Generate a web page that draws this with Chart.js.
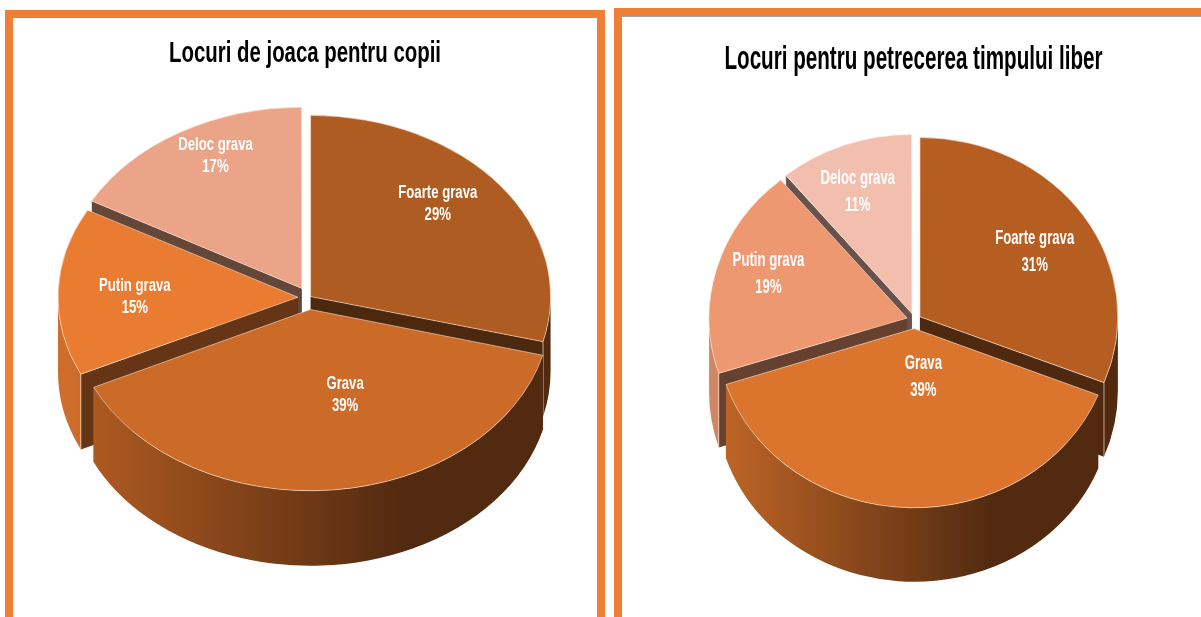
<!DOCTYPE html>
<html><head><meta charset="utf-8">
<style>
html,body{margin:0;padding:0;background:#fff;width:1201px;height:617px;overflow:hidden}
.frame{position:absolute;box-sizing:border-box;background:#fff}
#f1{left:5px;top:10px;width:600px;height:620px;border:8px solid #EE7F35}
#f2{left:614px;top:8px;width:600px;height:620px;border-left:8px solid #EE7F35;border-top:8px solid #EE7F35}
#f2:after{content:"";position:absolute;left:0;top:0;width:100%;height:1px;background:#9aa5b1}
canvas{position:absolute;top:0;display:block}
#c1{left:5px}
#c2{left:626px}
</style></head><body>
<div class="frame" id="f1"></div><div class="frame" id="f2"></div>
<canvas id="c1" width="600" height="617"></canvas>
<canvas id="c2" width="575" height="617"></canvas>
<script src="https://cdn.jsdelivr.net/npm/chart.js@4/dist/chart.umd.js"></script>
<script>
const categories = ['Foarte grava','Grava','Putin grava','Deloc grava'];
const titleCopii = 'Locuri de joaca pentru copii';
const titleTimp = 'Locuri pentru petrecerea timpului liber';
const valuesCopii = [29,39,15,17];
const valuesTimp = [31,39,19,11];
const coloursCopii = ['#AE5C21','#CC6A27','#EA7C32','#EBA487'];
const coloursTimp = ['#B65E22','#DB742C','#ED9870','#F2BEAE'];
const offsetsCopii = [8,64,44,56];
const offsetsTimp = [26,38,31,30];
const labelSpotCopii = [[.53,-.51],[.144,.47],[-.68,0],[-.36,-.73]];
const labelSpotTimp = [[.58,-.36],[.046,.27],[-.70,-.244],[-.274,-.68]];

const FONT = '"Liberation Sans Narrow","Liberation Sans",Arial,sans-serif';
const EDGE = 'rgba(255,232,215,.65)';

function rgb(h){return [1,3,5].map(i=>parseInt(h.substr(i,2),16));}
function shade(h,k){return 'rgb('+rgb(h).map(v=>Math.round(v*k)).join(',')+')';}

function radiusGrowth(arc){
  const o=(arc.options.offset||0)/4;
  return o*(1-Math.sin(Math.min(Math.PI,arc.endAngle-arc.startAngle)));
}
function geom(arc,view){
  const o=(arc.options.offset||0)/4;
  const mid=(arc.startAngle+arc.endAngle)/2;
  return {
    x:view.cx+Math.cos(mid)*o,
    y:view.cy+Math.sin(mid)*o*view.ratio,
    r:arc.outerRadius+radiusGrowth(arc),
    a:arc.startAngle,b:arc.endAngle
  };
}

const pie3d={
  id:'pie3d',
  beforeDraw(chart,args,view){
    const tb=chart.titleBlock;
    if(tb&&!tb._narrowed){
      tb._narrowed=true;
      const orig=tb.draw.bind(tb);
      tb.draw=function(){
        const ctx=chart.ctx,mid=chart.width/2;
        ctx.save();
        ctx.font='bold '+view.titleSize+'px '+FONT;
        const k=view.titleWidth/ctx.measureText(chart.options.plugins.title.text).width;
        ctx.translate(mid,0);ctx.scale(k,1);ctx.translate(-mid,0);
        orig();
        ctx.restore();
      };
    }
    // the arc element widens an exploded slice; keep all four slices the same radius
    chart.getDatasetMeta(0).data.forEach(arc=>{
      if(!arc._evened){arc._evened=true;arc.outerRadius-=radiusGrowth(arc);}
    });
  },
  beforeDatasetsDraw(chart,args,view){
    const ctx=chart.ctx,meta=chart.getDatasetMeta(0),arcs=meta.data;
    const cols=chart.data.datasets[0].backgroundColor;
    const R=geom(arcs[0],view).r;
    [3,0,2,1].forEach(i=>{
      const g=geom(arcs[i],view),ry=g.r*view.ratio,d=view.depth;
      const dark=shade(cols[i],.43);
      [[g.a,Math.cos(g.a)<-1e-6],[g.b,Math.cos(g.b)>1e-6]].forEach(([th,vis])=>{
        if(!vis)return;
        const px=g.x+Math.cos(th)*g.r,py=g.y+Math.sin(th)*ry;
        ctx.beginPath();ctx.moveTo(g.x,g.y);ctx.lineTo(px,py);ctx.lineTo(px,py+d);ctx.lineTo(g.x,g.y+d);ctx.closePath();
        ctx.fillStyle=dark;ctx.fill();
      });
      const a1=Math.max(g.a,0),a2=Math.min(g.b,Math.PI);
      if(a2>a1){
        const gr=ctx.createLinearGradient(view.cx-R,0,view.cx+R,0);
        gr.addColorStop(0,shade(cols[i],.88));
        gr.addColorStop(.7,view.wallDark);
        gr.addColorStop(1,view.wallDark);
        ctx.beginPath();
        ctx.ellipse(g.x,g.y,g.r,ry,0,a1,a2);
        ctx.ellipse(g.x,g.y+d,g.r,ry,0,a2,a1,true);
        ctx.closePath();
        ctx.fillStyle=gr;ctx.fill();
      }
      [[g.a,Math.cos(g.a)<-1e-6],[g.b,Math.cos(g.b)>1e-6]].forEach(([th,vis])=>{
        if(!vis)return;
        const px=g.x+Math.cos(th)*g.r,py=g.y+Math.sin(th)*ry;
        ctx.beginPath();ctx.moveTo(px,py);ctx.lineTo(px,py+d);ctx.strokeStyle=EDGE;ctx.lineWidth=1;ctx.stroke();
      });
    });
    const a0=arcs[0];
    ctx.save();
    ctx.translate(view.cx,view.cy);ctx.scale(1,view.ratio);ctx.translate(-a0.x,-a0.y);
  },
  afterDatasetsDraw(chart,args,view){
    const ctx=chart.ctx,arcs=chart.getDatasetMeta(0).data;
    ctx.restore();
    const vals=chart.data.datasets[0].data;
    ctx.save();
    ctx.fillStyle='#fff';ctx.textAlign='center';ctx.textBaseline='middle';
    ctx.font='bold '+view.labelSize+'px '+FONT;
    const k=view.labelWidth/ctx.measureText(chart.data.labels[0]).width;
    arcs.forEach((arc,i)=>{
      const g=geom(arc,view),sp=view.spots[i];
      const lx=g.x+sp[0]*g.r,ly=g.y+sp[1]*g.r*view.ratio;
      [[chart.data.labels[i],-view.labelGap/2],[vals[i]+'%',view.labelGap/2]].forEach(([txt,dy])=>{
        ctx.save();ctx.translate(lx,ly+dy);ctx.scale(k,1);
        ctx.fillText(txt,0,0);ctx.restore();
      });
    });
    ctx.restore();
  }
};

function make(id,title,values,colours,offsets,radius,titleCfg,view){
  return new Chart(document.getElementById(id),{
    type:'pie',
    plugins:[pie3d],
    data:{labels:categories,datasets:[{data:values,backgroundColor:colours,offset:offsets,
      borderColor:EDGE,borderWidth:1,clip:false,radius:radius}]},
    options:{
      responsive:false,animation:false,
      events:[],
      plugins:{
        legend:{display:false},tooltip:{enabled:false},
        title:{display:true,text:title,color:'#000',
          font:{family:FONT,weight:'bold',size:titleCfg.size},
          padding:{top:titleCfg.top,bottom:0}},
        pie3d:view
      }
    }
  });
}
make('c1',titleCopii,valuesCopii,coloursCopii,offsetsCopii,240,{size:29,top:37},
  {cx:304,cy:297.5,ratio:.755,depth:75,spots:labelSpotCopii,labelSize:18,labelGap:22,labelWidth:79,
   titleSize:29,titleWidth:272,wallDark:'#522A10'});
make('c2',titleTimp,valuesTimp,coloursTimp,offsetsTimp,198,{size:34,top:39},
  {cx:288.5,cy:320,ratio:.905,depth:74,spots:labelSpotTimp,labelSize:20,labelGap:27,labelWidth:79,
   titleSize:34,titleWidth:410,wallDark:'#522A10'});
</script>
</body></html>
